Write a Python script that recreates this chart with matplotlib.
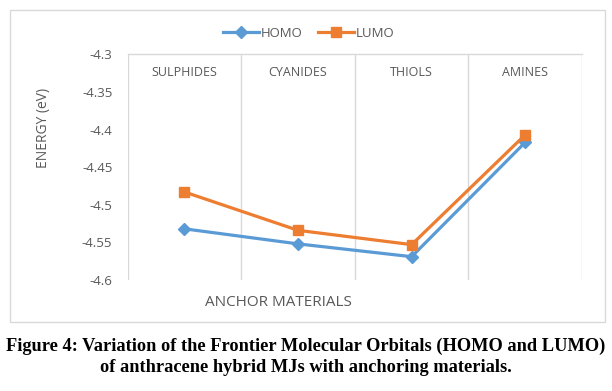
import matplotlib
matplotlib.use("Agg")
import matplotlib.pyplot as plt
from matplotlib.patches import Rectangle

categories = ["SULPHIDES", "CYANIDES", "THIOLS", "AMINES"]
homo = [-4.532, -4.552, -4.569, -4.417]
lumo = [-4.483, -4.534, -4.553, -4.407]
yticks = [-4.3, -4.35, -4.4, -4.45, -4.5, -4.55, -4.6]

W, H = 612, 391
fig = plt.figure(figsize=(W / 100, H / 100), dpi=100)
fig.patch.set_facecolor("white")

grey = "#595959"
gridc = "#d9d9d9"
font = "Open Sans"

# chart border
fig.patches.append(Rectangle((10 / W, 1 - 322 / H), (605 - 10) / W, (322 - 10) / H,
                             transform=fig.transFigure, fill=False,
                             edgecolor=gridc, linewidth=1.0))

left, right, top, bottom = 127.7, 582, 54.3, 280
ax = fig.add_axes([left / W, 1 - bottom / H, (right - left) / W, (bottom - top) / H])

x = list(range(len(categories)))
ax.plot(x, homo, color="#5B9BD5", lw=2.3, marker="D", ms=6, label="HOMO", zorder=3)
ax.plot(x, lumo, color="#ED7D31", lw=2.3, marker="s", ms=7, label="LUMO", zorder=4)

ax.set_xlim(-0.5, len(categories) - 0.5)
ax.set_ylim(-4.6, -4.3)
ax.set_yticks(yticks)
ax.set_yticklabels([f"{v:g}" for v in yticks], fontfamily=font, fontsize=9.5, color=grey)
ax.tick_params(axis="y", length=0, pad=11)
ax.set_xticks([])
for xb in [i - 0.5 for i in range(len(categories) + 1)]:
    ax.axvline(xb, color=gridc, lw=1.0, zorder=1)
for s in ["left", "right", "bottom"]:
    ax.spines[s].set_visible(False)
ax.spines["top"].set_color(gridc)
ax.spines["top"].set_linewidth(1.0)

for xi, c in zip(x, categories):
    ax.text(xi, -4.3 - (72 - top) / (bottom - top) * 0.3, c, ha="center", va="center",
            fontfamily=font, fontsize=9, color=grey)

fig.text(43 / W, 1 - 127.5 / H, "ENERGY (eV)", rotation=90, ha="center", va="center",
         fontfamily=font, fontsize=10, color=grey)
fig.text(278 / W, 1 - 303 / H, "ANCHOR MATERIALS", ha="center", va="center",
         fontfamily=font, fontsize=11, color=grey)

fig.legend(loc="center", bbox_to_anchor=(309 / W, 1 - 33.5 / H), ncol=2, frameon=False,
           prop={"family": font, "size": 9.5}, labelcolor=grey, handlelength=2.7,
           handletextpad=0.15, columnspacing=1.2)

fig.text(306 / W, 1 - 346 / H,
         "Figure 4: Variation of the Frontier Molecular Orbitals (HOMO and LUMO)",
         ha="center", va="center", fontfamily="Liberation Serif", fontweight="bold", fontsize=13.2)
fig.text(306 / W, 1 - 368 / H,
         "of anthracene hybrid MJs with anchoring materials.",
         ha="center", va="center", fontfamily="Liberation Serif", fontweight="bold", fontsize=13.2)

fig.savefig("out.png", dpi=100, facecolor="white")
